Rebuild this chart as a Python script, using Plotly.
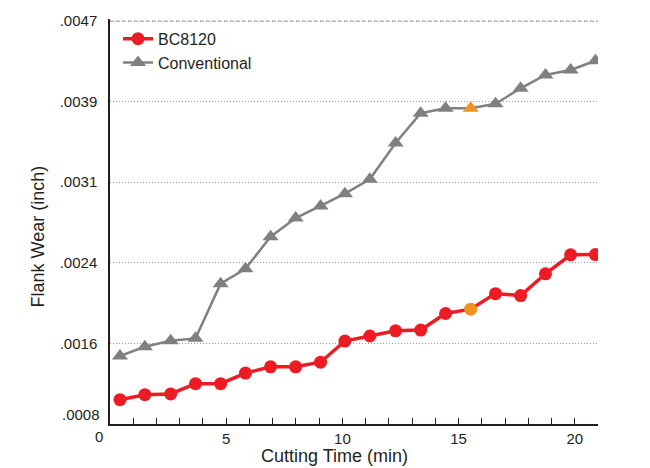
import plotly.graph_objects as go

# Cutting time (min) at each measurement
cutting_time = [0.43, 1.50, 2.61, 3.68, 4.76, 5.83, 6.91, 7.99, 9.06, 10.11,
                11.18, 12.29, 13.37, 14.44, 15.52, 16.59, 17.67, 18.74, 19.82, 20.89]

# Flank wear (inch)
bc8120_wear = [0.001025, 0.001074, 0.001081, 0.001181, 0.001181, 0.001285, 0.001346,
               0.001346, 0.001391, 0.001598, 0.001647, 0.001698, 0.001705, 0.001867,
               0.001909, 0.002061, 0.002042, 0.002255, 0.002440, 0.002443]
conventional_wear = [0.001452, 0.001543, 0.001601, 0.001624, 0.002158, 0.002304,
                     0.002617, 0.002799, 0.002918, 0.003038, 0.003178, 0.003533,
                     0.003824, 0.003873, 0.003873, 0.003916, 0.004067, 0.004197,
                     0.004246, 0.004336]

# Highlighted measurement index (shown in orange)
highlight_index = 14

# Y axis grid: metric steps of 0.02 mm shown as inch labels
grid_mm = [0.04, 0.06, 0.08, 0.10, 0.12]
grid_labels = [".0016", ".0024", ".0031", ".0039", ".0047"]
bottom_mm = 0.02
top_mm = 0.1205  # a hair above the last grid line so it stays visible
bottom_label = ".0008"
x_tick_labels = {5: "5", 10: "10", 15: "15", 20: "20"}

MM_PER_INCH = 25.4
RED = "#ED1C24"
GRAY = "#808080"
ORANGE = "#F0921E"
TEXT = "#231F20"
GRID = "#9a9a9a"
FONT = "Liberation Sans, Arial, sans-serif"

red_colors = [ORANGE if i == highlight_index else RED for i in range(len(cutting_time))]
gray_colors = [ORANGE if i == highlight_index else GRAY for i in range(len(cutting_time))]

fig = go.Figure()
fig.add_trace(go.Scatter(
    x=cutting_time, y=bc8120_wear, name="BC8120", mode="lines+markers",
    line=dict(color=RED, width=3.5),
    marker=dict(symbol="circle", size=13, color=red_colors, line=dict(width=0)),
))
fig.add_trace(go.Scatter(
    x=cutting_time, y=conventional_wear, name="Conventional", mode="lines+markers",
    line=dict(color=GRAY, width=2.5),
    marker=dict(symbol="triangle-up", size=14, color=gray_colors, line=dict(width=0)),
))

x_ticks = list(range(0, 22))
fig.update_xaxes(
    range=[0, 21], tickvals=x_ticks,
    ticktext=[x_tick_labels.get(v, "") for v in x_ticks],
    ticks="inside", ticklen=6, tickwidth=1, tickcolor=TEXT,
    showline=True, linecolor=TEXT, linewidth=1.5,
    showgrid=False, zeroline=False,
    tickfont=dict(family=FONT, size=15, color=TEXT),
)
fig.update_yaxes(
    range=[bottom_mm / MM_PER_INCH, top_mm / MM_PER_INCH],
    tickvals=[v / MM_PER_INCH for v in grid_mm], ticktext=grid_labels,
    ticks="", ticklabelstandoff=8,
    showline=True, linecolor=TEXT, linewidth=1.5,
    showgrid=True, gridcolor=GRID, gridwidth=1, griddash="1px,2px",
    zeroline=False,
    tickfont=dict(family=FONT, size=15, color=TEXT),
)

# explicit line for the top grid value, drawn over the plotting area
top_grid = grid_mm[-1] / MM_PER_INCH
fig.add_shape(type="line", xref="x", yref="y", x0=0, x1=21, y0=top_grid, y1=top_grid,
              line=dict(color=GRID, width=1, dash="dot"), layer="above")

annotations = [
    # origin labels placed clear of each other at the corner
    dict(x=0, y=0, xref="x", yref="paper", text="0", showarrow=False,
         xanchor="center", yanchor="top", xshift=-11, yshift=-2,
         font=dict(family=FONT, size=15, color=TEXT)),
    dict(x=0, y=bottom_mm / MM_PER_INCH, xref="paper", yref="y", text=bottom_label,
         showarrow=False, xanchor="right", yanchor="middle", xshift=-8, yshift=10,
         font=dict(family=FONT, size=15, color=TEXT)),
    # axis titles
    dict(x=0.461, y=-0.08, xref="paper", yref="paper", text="Cutting Time (min)",
         showarrow=False, xanchor="center", yanchor="middle",
         font=dict(family=FONT, size=18, color=TEXT)),
    dict(x=-0.1485, y=0.462, xref="paper", yref="paper", text="Flank Wear (inch)",
         showarrow=False, xanchor="center", yanchor="middle", textangle=-90,
         font=dict(family=FONT, size=18, color=TEXT)),
]

fig.update_layout(
    width=650, height=468,
    margin=dict(l=110, r=52, t=17, b=43.5),
    paper_bgcolor="white", plot_bgcolor="white",
    showlegend=True,
    legend=dict(x=0.0164, y=0.993, xanchor="left", yanchor="top",
                bgcolor="rgba(0,0,0,0)", borderwidth=0,
                font=dict(family=FONT, size=16, color=TEXT),
                tracegroupgap=0, itemwidth=30),
    annotations=annotations,
)

fig.write_html("out.html")
